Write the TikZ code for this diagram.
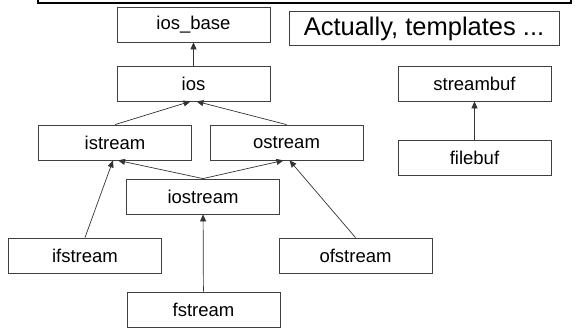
\documentclass[tikz,border=0pt]{standalone}
\usepackage{fontspec}
\setmainfont{Liberation Sans}
\usetikzlibrary{arrows.meta}

\begin{document}
\begin{tikzpicture}[x=1pt, y=-1pt,
    cls/.style={rectangle, draw=black!75, line width=0.8pt, fill=white, minimum width=153pt, minimum height=35pt, inner sep=0pt, font=\fontsize{18.5}{20}\selectfont},
    inherit/.style={-{Triangle[length=7pt, width=6pt]}, draw=black!80, line width=0.7pt}]
    \clip (0,0) rectangle (576,328);
    \useasboundingbox (0,0) rectangle (576,328);

    % Frame cut off at the top
    \draw[line width=1.2pt] (38,-10) -- (38,3) -- (571,3) -- (571,-10);

    % Draw nodes
    \node[cls] (iosbase) at (193.5,24.5) {ios\_base};
    \node[rectangle, draw=black!75, line width=0.8pt, minimum width=270pt, minimum height=34pt, inner sep=0pt, font=\fontsize{25.5}{28}\selectfont] (note) at (424,28.5) {Actually, templates ...};
    \node[cls] (ios) at (193.5,83.5) {ios};
    \node[cls] (streambuf) at (474.5,83.5) {streambuf};
    \node[cls] (istream) at (115,142.5) {istream};
    \node[cls] (ostream) at (286.5,142.5) {ostream};
    \node[cls] (filebuf) at (474.5,157.5) {filebuf};
    \node[cls] (iostream) at (203,196.5) {iostream};
    \node[cls] (ifstream) at (85,255.5) {ifstream};
    \node[cls] (ofstream) at (355.5,255.5) {ofstream};
    \node[cls] (fstream) at (203.5,309.5) {fstream};

    % Draw connections
    \draw[inherit] (ios) -- (iosbase);
    \draw[inherit] (istream.north) -- ([xshift=-3pt]ios.south);
    \draw[inherit] (ostream.north) -- ([xshift=3pt]ios.south);
    \draw[inherit] (iostream.north) -- ([xshift=3pt]istream.south);
    \draw[inherit] (iostream.north) -- ([xshift=-3pt]ostream.south);
    \draw[inherit] (ifstream.north) -- ([xshift=-2pt]istream.south);
    \draw[inherit] (ofstream.north) -- ([xshift=3pt]ostream.south);
    \draw[inherit] (fstream) -- (iostream);
    \draw[inherit] (filebuf) -- (streambuf);
\end{tikzpicture}
\end{document}
